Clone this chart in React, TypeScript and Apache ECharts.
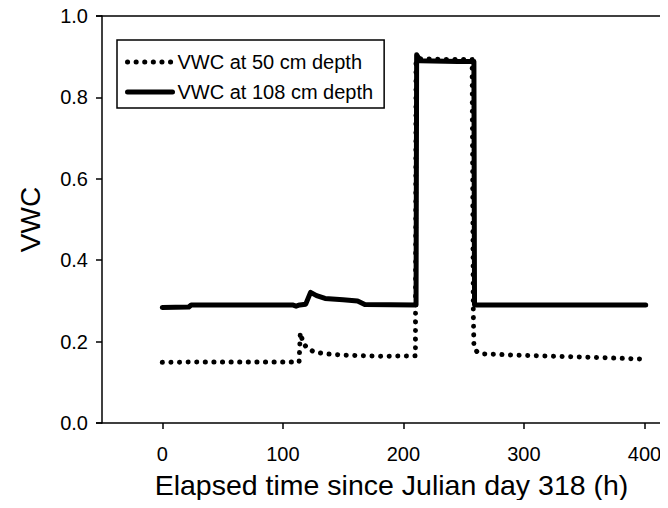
import React, { useEffect, useRef } from "react";
import * as echarts from "echarts";

// Hours since Julian day 318 and VWC at 50 cm depth (dotted line)
const hours50 = [0, 30, 80, 113.5, 114.5, 117, 121, 126, 135, 150, 180, 210, 210.5, 212, 240, 257, 258, 258.5, 261, 266, 300, 350, 400];
const vwc50 = [0.149, 0.15, 0.15, 0.15, 0.222, 0.195, 0.182, 0.175, 0.17, 0.167, 0.164, 0.165, 0.89, 0.895, 0.893, 0.893, 0.27, 0.19, 0.175, 0.17, 0.166, 0.162, 0.157];

// Hours and VWC at 108 cm depth (solid line)
const hours108 = [0, 22, 24, 108, 111, 114, 119, 123, 128, 135, 150, 162, 168, 210.5, 211, 214, 245, 258.5, 259, 401];
const vwc108 = [0.284, 0.285, 0.29, 0.29, 0.287, 0.29, 0.292, 0.321, 0.313, 0.306, 0.303, 0.3, 0.291, 0.29, 0.905, 0.89, 0.888, 0.888, 0.29, 0.29];

const xTicks = [0, 100, 200, 300, 400];
const yTicks = [0, 0.2, 0.4, 0.6, 0.8, 1.0];

const seriesNames = ["VWC at 50 cm depth", "VWC at 108 cm depth"];
const xTitle = "Elapsed time since Julian day 318 (h)";
const yTitle = "VWC";

const FONT = "Liberation Sans, Arial, sans-serif";

export default function App() {
  const ref = useRef<HTMLDivElement>(null);
  useEffect(() => {
    if (!ref.current) return;
    const chart = echarts.init(ref.current, undefined, { renderer: "svg" });
    const toPairs = (xs: number[], ys: number[]) => xs.map((x, i) => [x, ys[i]]);
    chart.setOption({
      animation: false,
      backgroundColor: "#ffffff",
      textStyle: { fontFamily: FONT, color: "#000" },
      grid: { left: 102, top: 16, right: 0, bottom: 85, containLabel: false },
      graphic: [
        { type: "line", shape: { x1: 96, y1: 16, x2: 102, y2: 16 }, style: { stroke: "#000", lineWidth: 1.5 } },
        { type: "line", shape: { x1: 96, y1: 423, x2: 102, y2: 423 }, style: { stroke: "#000", lineWidth: 1.5 } },
      ],
      legend: {
        orient: "vertical",
        left: 117,
        top: 40,
        padding: [12, 11, 6, 8],
        itemWidth: 45,
        itemHeight: 20,
        itemGap: 10,
        borderColor: "#000",
        borderWidth: 1.5,
        borderRadius: 0,
        backgroundColor: "#fff",
        itemStyle: { opacity: 0 },
        lineStyle: { width: 5, cap: "round" },
        textStyle: { fontFamily: FONT, fontSize: 20, color: "#000" },
        data: seriesNames,
      },
      xAxis: [
        {
          type: "value",
          min: -50,
          max: 419.5,
          name: xTitle,
          nameLocation: "middle",
          nameGap: 47,
          nameTextStyle: { fontFamily: FONT, fontSize: 28.5, color: "#000", padding: [0, 0, 0, 13] },
          axisLine: { show: true, onZero: false, lineStyle: { color: "#000", width: 1.5 } },
          axisTick: { show: true, length: 6, customValues: xTicks, lineStyle: { color: "#000", width: 1.5 } },
          axisLabel: { customValues: xTicks, margin: 21, fontFamily: FONT, fontSize: 20, color: "#000" },
          splitLine: { show: false },
        },
        {
          type: "value",
          position: "top",
          min: -50,
          max: 419.5,
          axisLine: { show: true, onZero: false, lineStyle: { color: "#000", width: 1.5 } },
          axisTick: { show: false },
          axisLabel: { show: false },
          splitLine: { show: false },
        },
      ],
      yAxis: {
        type: "value",
        min: 0,
        max: 1,
        interval: 0.2,
        name: yTitle,
        nameLocation: "middle",
        nameGap: 58,
        nameTextStyle: { fontFamily: FONT, fontSize: 28, color: "#000" },
        axisLine: { show: true, onZero: false, lineStyle: { color: "#000", width: 1.5 } },
        axisTick: { show: true, length: 6, lineStyle: { color: "#000", width: 1.5 } },
        axisLabel: {
          margin: 14,
          fontFamily: FONT,
          fontSize: 20,
          color: "#000",
          formatter: (v: number) => v.toFixed(1),
          customValues: yTicks,
        },
        splitLine: { show: false },
      },
      series: [
        {
          name: seriesNames[0],
          type: "line",
          data: toPairs(hours50, vwc50),
          symbol: "none",
          lineStyle: { color: "#000", width: 5, type: [0.1, 8.5], cap: "round" },
          itemStyle: { color: "#000" },
          z: 2,
        },
        {
          name: seriesNames[1],
          type: "line",
          data: toPairs(hours108, vwc108),
          symbol: "none",
          lineStyle: { color: "#000", width: 5, type: "solid", cap: "round", join: "round" },
          itemStyle: { color: "#000" },
          z: 3,
        },
      ],
    });
    return () => chart.dispose();
  }, []);
  return <div ref={ref} style={{ width: 668, height: 508, margin: -8 }} />;
}
